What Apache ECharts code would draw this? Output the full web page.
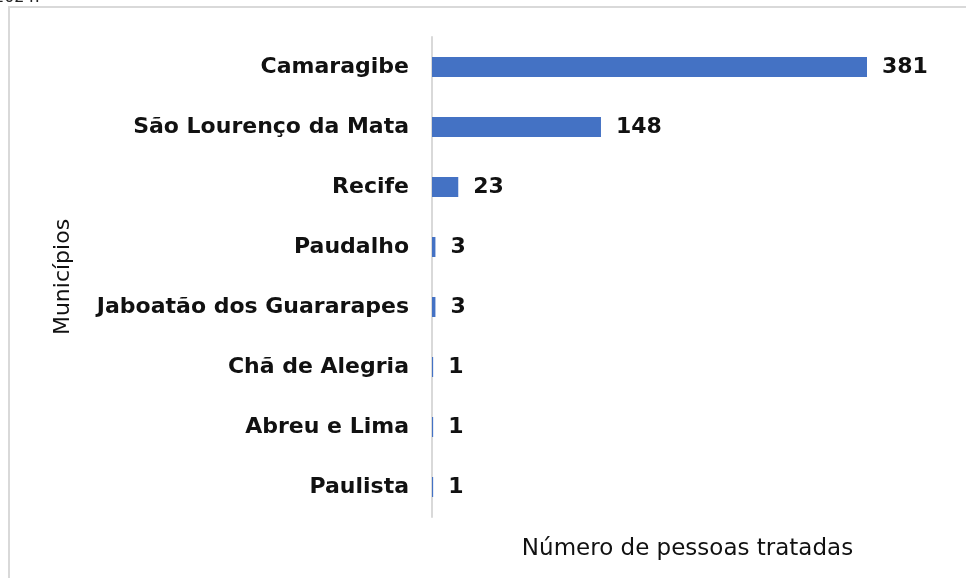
<!DOCTYPE html>
<html>
<head>
<meta charset="utf-8">
<script src="https://cdn.jsdelivr.net/npm/echarts@6/dist/echarts.min.js"></script>
<style>
  html, body { margin: 0; padding: 0; background: #fff; }
  #chart { width: 966px; height: 578px; }
</style>
</head>
<body>
<div id="chart"></div>
<script>
// municípios e número de pessoas tratadas
var municipios = ['Camaragibe', 'São Lourenço da Mata', 'Recife', 'Paudalho',
    'Jaboatão dos Guararapes', 'Chã de Alegria', 'Abreu e Lima', 'Paulista'];
var tratados = [381, 148, 23, 3, 3, 1, 1, 1];

var fonte = 'DejaVu Sans';

var option = {
    animation: false,
    backgroundColor: '#fff',
    grid: {
        left: 432,
        right: 99,
        top: 37,
        bottom: 61
    },
    graphic: [
        {
            type: 'rect',
            x: 9,
            y: 7,
            shape: { width: 1000, height: 620 },
            style: { fill: 'none', stroke: '#d9d9d9', lineWidth: 2 }
        },
        {
            type: 'text',
            x: -6,
            y: -10,
            style: { text: '2024.', font: '16px ' + fonte, fill: '#222' }
        }
    ],
    xAxis: {
        type: 'value',
        min: 0,
        max: 381,
        axisLine: { show: false },
        axisTick: { show: false },
        axisLabel: { show: false },
        splitLine: { show: false },
        name: 'Número de pessoas tratadas',
        nameLocation: 'middle',
        nameGap: 21,
        nameTextStyle: {
            fontFamily: fonte,
            fontSize: 23,
            color: '#111',
            padding: [0, 0, 0, 76]
        }
    },
    yAxis: {
        type: 'category',
        inverse: true,
        data: municipios,
        axisLine: { show: true, lineStyle: { color: '#d9d9d9', width: 2 } },
        axisTick: { show: false },
        axisLabel: {
            margin: 23,
            fontFamily: fonte,
            fontWeight: 'bold',
            fontSize: 22,
            color: '#111'
        },
        name: 'Municípios',
        nameLocation: 'middle',
        nameRotate: 90,
        nameGap: 358,
        nameTextStyle: {
            fontFamily: fonte,
            fontSize: 22,
            color: '#111'
        }
    },
    series: [{
        type: 'bar',
        data: tratados,
        barWidth: 20,
        itemStyle: { color: '#4472C4' },
        label: {
            show: true,
            position: 'right',
            distance: 15,
            fontFamily: fonte,
            fontWeight: 'bold',
            fontSize: 22,
            color: '#111'
        }
    }]
};

var myChart = echarts.init(document.getElementById('chart'));
myChart.setOption(option);
</script>
</body>
</html>
